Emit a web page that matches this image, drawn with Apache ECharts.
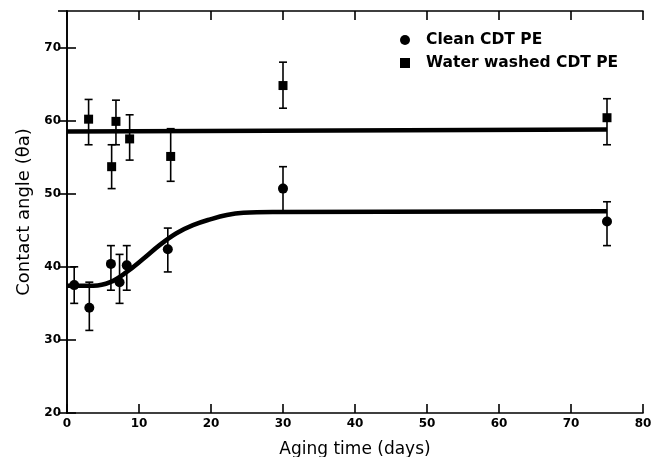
<!DOCTYPE html>
<html>
<head>
<meta charset="utf-8">
<script src="https://cdn.jsdelivr.net/npm/echarts@6/dist/echarts.min.js"></script>
<style>
html,body{margin:0;padding:0;background:#fff;}
#chart{width:655px;height:457px;}
</style>
</head>
<body>
<div id="chart"></div>
<script>
// ---- data ----
const cleanName = 'Clean CDT PE';
const waterName = 'Water washed CDT PE';
const xTickLabels = ['0','10','20','30','40','50','60','70','80'];
const yTickLabels = ['20','30','40','50','60','70'];

const cleanX    = [1.0, 3.1, 6.1, 7.3, 8.3, 14.0, 30.0, 75.0];
const cleanY    = [37.5, 34.4, 40.4, 37.9, 40.2, 42.4, 50.7, 46.2];
const cleanLow  = [35.0, 31.3, 36.8, 35.0, 36.8, 39.3, 47.6, 42.9];
const cleanHigh = [40.0, 37.9, 42.9, 41.7, 42.9, 45.3, 53.7, 48.9];

const waterX    = [3.0, 6.2, 6.8, 8.7, 14.4, 30.0, 75.0];
const waterY    = [60.2, 53.7, 59.9, 57.5, 55.1, 64.8, 60.4];
const waterLow  = [56.7, 50.7, 56.7, 54.6, 51.7, 61.7, 56.7];
const waterHigh = [62.9, 56.7, 62.8, 60.8, 58.9, 68.0, 63.0];

const cleanFitX = [0, 3.7, 6.0, 8.3, 10.6, 12.9, 15.2, 17.5, 19.9, 22.2, 24.5, 29.1, 75];
const cleanFitY = [37.4, 37.4, 37.9, 39.3, 41.1, 43.0, 44.6, 45.7, 46.5, 47.1, 47.4, 47.5, 47.6];
const waterFitX = [0, 75];
const waterFitY = [58.5, 58.8];

// ---- build ----
const zip = (a, b) => a.map((v, i) => [v, b[i]]);
const zip3 = (a, b, c) => a.map((v, i) => [v, b[i], c[i]]);
const ink = '#000';
const FONT = 'DejaVu Sans';

function errRender(params, api) {
  const x = api.value(0);
  const lo = api.coord([x, api.value(1)]);
  const hi = api.coord([x, api.value(2)]);
  const w = 4;
  const style = { stroke: ink, lineWidth: 1.6, fill: null };
  return {
    type: 'group',
    children: [
      { type: 'line', shape: { x1: lo[0], y1: lo[1], x2: hi[0], y2: hi[1] }, style },
      { type: 'line', shape: { x1: lo[0] - w, y1: lo[1], x2: lo[0] + w, y2: lo[1] }, style },
      { type: 'line', shape: { x1: hi[0] - w, y1: hi[1], x2: hi[0] + w, y2: hi[1] }, style }
    ]
  };
}

const axisCommon = {
  axisLine: { lineStyle: { color: ink, width: 1.6 } },
  axisTick: { inside: true, length: 9, lineStyle: { color: ink, width: 1.6 } },
  splitLine: { show: false }
};

const chart = echarts.init(document.getElementById('chart'), null, { renderer: 'canvas' });
chart.setOption({
  animation: false,
  backgroundColor: '#fff',
  textStyle: { fontFamily: FONT, color: ink },
  grid: { left: 67, right: 12, top: 11, bottom: 44, containLabel: false, outerBoundsMode: 'none' },
  legend: {
    orient: 'vertical',
    left: 395, top: 27,
    itemWidth: 10, itemHeight: 10, itemGap: 7,
    data: [
      { name: cleanName, icon: 'circle', itemStyle: { color: ink, opacity: 1 } },
      { name: waterName, icon: 'rect', itemStyle: { color: ink, opacity: 1 } }
    ],
    textStyle: { fontFamily: FONT, fontSize: 15.5, fontWeight: 'bold', color: ink, padding: [0, 0, 0, 11] }
  },
  xAxis: [
    Object.assign({
      type: 'value', min: 0, max: 80, interval: 10, position: 'bottom',
      name: 'Aging time (days)', nameLocation: 'middle', nameGap: 28,
      nameTextStyle: { fontFamily: FONT, fontSize: 17, color: ink },
      axisLabel: { fontFamily: FONT, fontSize: 12, fontWeight: 'bold', color: ink, margin: 5,
        formatter: (v) => xTickLabels[Math.round(v / 10)] }
    }, axisCommon),
    Object.assign({
      type: 'value', min: 0, max: 80, interval: 10, position: 'top',
      axisLabel: { show: false }
    }, axisCommon)
  ],
  yAxis: [
    Object.assign({
      type: 'value', min: 20, max: 75, interval: 10, position: 'left',
      name: 'Contact angle (θa)', nameLocation: 'middle', nameGap: 33,
      nameTextStyle: { fontFamily: FONT, fontSize: 18, color: ink },
      axisLabel: { fontFamily: FONT, fontSize: 12, fontWeight: 'bold', color: ink, margin: 6, showMaxLabel: false,
        formatter: (v) => { const i = Math.round((v - 20) / 10); return (v - 20) % 10 === 0 ? yTickLabels[i] : ''; } }
    }, axisCommon),
    Object.assign({
      type: 'value', min: 20, max: 75, interval: 10, position: 'right',
      axisLabel: { show: false }
    }, axisCommon)
  ],
  series: [
    { name: 'cleanFit', type: 'line', data: zip(cleanFitX, cleanFitY), smooth: 0.4,
      showSymbol: false, lineStyle: { color: ink, width: 4.5 }, z: 2, silent: true },
    { name: 'waterFit', type: 'line', data: zip(waterFitX, waterFitY),
      showSymbol: false, lineStyle: { color: ink, width: 4.5 }, z: 2, silent: true },
    { name: 'cleanErr', type: 'custom', renderItem: errRender, data: zip3(cleanX, cleanLow, cleanHigh), z: 3 },
    { name: 'waterErr', type: 'custom', renderItem: errRender, data: zip3(waterX, waterLow, waterHigh), z: 3 },
    { name: cleanName, type: 'scatter', data: zip(cleanX, cleanY), symbol: 'circle', symbolSize: 10,
      itemStyle: { color: ink, opacity: 1 }, z: 4 },
    { name: waterName, type: 'scatter', data: zip(waterX, waterY), symbol: 'rect', symbolSize: 9,
      itemStyle: { color: ink, opacity: 1 }, z: 4 }
  ]
});
</script>
</body>
</html>
